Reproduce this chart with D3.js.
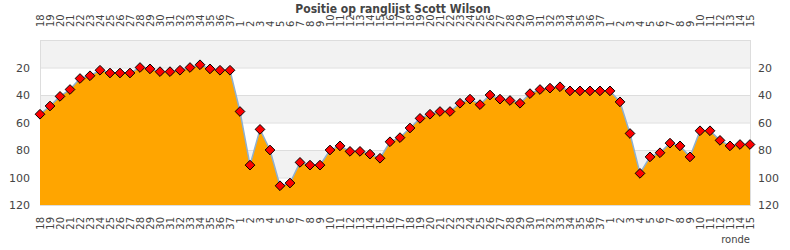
<!DOCTYPE html>
<html>
<head>
<meta charset="utf-8">
<script src="https://cdn.jsdelivr.net/npm/d3@7"></script>
<style>
  body { margin: 0; background: #fff; }
  svg { display: block; }
</style>
</head>
<body>
<div id="chart"></div>
<script>
const rounds = [
  "18","19","20","21","22","23","24","25","26","27","28","29","30","31","32","33","34","35","36","37",
  "1","2","3","4","5","6","7","8","9","10","11","12","13","14","15","16","17","18","19","20",
  "21","22","23","24","25","26","27","28","29","30","31","32","33","34","35","36","37",
  "1","2","3","4","5","6","7","8","9","10","11","12","13","14","15"
];
const positions = [
  54,48,41,36,28,26,22,24,24,24,20,21,23,23,22,20,18,21,22,22,
  52,91,65,80,106,104,89,91,91,80,77,81,81,83,86,74,71,64,57,54,
  52,52,46,43,47,40,43,44,46,39,36,35,34,37,37,37,37,
  37,45,68,97,85,82,75,77,85,66,66,73,77,76,76
];
const yTicks = [20, 40, 60, 80, 100, 120];
const bands = [0, 40, 80];

const width = 790, height = 250;
const margin = { top: 40, right: 40, bottom: 45, left: 40 };

const svg = d3.select("#chart").append("svg")
  .attr("width", width)
  .attr("height", height)
  .style("font-family", "'DejaVu Sans', sans-serif");

const idx = rounds.map((d, i) => i);
const x = d3.scalePoint()
  .domain(idx)
  .range([margin.left, width - margin.right]);

const y = d3.scaleLinear()
  .domain([0, 120])
  .range([margin.top, height - margin.bottom]);

// alternating bands
svg.selectAll(".band")
  .data(bands)
  .enter()
  .append("rect")
  .attr("x", margin.left)
  .attr("y", d => y(d))
  .attr("width", width - margin.left - margin.right)
  .attr("height", d => y(d + 20) - y(d))
  .attr("fill", "#f2f2f2");

// grid lines
svg.selectAll(".grid")
  .data(yTicks.slice(0, -1))
  .enter()
  .append("line")
  .attr("x1", margin.left)
  .attr("x2", width - margin.right)
  .attr("y1", d => y(d) + 0.5)
  .attr("y2", d => y(d) + 0.5)
  .attr("stroke", "#dddddd");

// plot border
svg.append("rect")
  .attr("x", margin.left + 0.5)
  .attr("y", margin.top + 0.5)
  .attr("width", width - margin.left - margin.right)
  .attr("height", height - margin.top - margin.bottom)
  .attr("fill", "none")
  .attr("stroke", "#dddddd");

const area = d3.area()
  .x((d, i) => x(i))
  .y0(y(120))
  .y1(d => y(d));

svg.append("path")
  .datum(positions)
  .attr("d", area)
  .attr("fill", "#ffa500");

const line = d3.line()
  .x((d, i) => x(i))
  .y(d => y(d));

svg.append("path")
  .datum(positions)
  .attr("d", line)
  .attr("fill", "none")
  .attr("stroke", "#8eb0d0")
  .attr("stroke-width", 1.5);

svg.selectAll(".pt")
  .data(positions)
  .enter()
  .append("path")
  .attr("d", d3.symbol().type(d3.symbolDiamond2).size(60))
  .attr("transform", (d, i) => `translate(${x(i)},${y(d)})`)
  .attr("fill", "#ff0000")
  .attr("stroke", "#000")
  .attr("stroke-width", 1);

// y axes (left and right)
const yAxisL = svg.append("g")
  .attr("transform", `translate(${margin.left},0)`)
  .call(d3.axisLeft(y).tickValues(yTicks).tickSize(0).tickPadding(10));
const yAxisR = svg.append("g")
  .attr("transform", `translate(${width - margin.right},0)`)
  .call(d3.axisRight(y).tickValues(yTicks).tickSize(0).tickPadding(8));
[yAxisL, yAxisR].forEach(g => {
  g.select(".domain").remove();
  g.selectAll("text")
    .style("font-size", "11px")
    .style("font-family", "'DejaVu Sans', sans-serif")
    .attr("fill", "#444");
});

// x axes top and bottom, rotated labels
const xAxisT = svg.append("g")
  .attr("transform", `translate(0,${margin.top})`)
  .call(d3.axisTop(x).tickFormat(i => rounds[i]).tickSize(0));
xAxisT.select(".domain").remove();
xAxisT.selectAll("text")
  .attr("transform", "rotate(-90)")
  .attr("text-anchor", "start")
  .attr("x", 13)
  .attr("y", 0)
  .attr("dy", "0.35em")
  .style("font-size", "10px")
  .style("font-family", "'DejaVu Sans', sans-serif")
  .attr("fill", "#444");

const xAxisB = svg.append("g")
  .attr("transform", `translate(0,${height - margin.bottom})`)
  .call(d3.axisBottom(x).tickFormat(i => rounds[i]).tickSize(0));
xAxisB.select(".domain").remove();
xAxisB.selectAll("text")
  .attr("transform", "rotate(-90)")
  .attr("text-anchor", "end")
  .attr("x", -12)
  .attr("y", 0)
  .attr("dy", "0.35em")
  .style("font-size", "10px")
  .style("font-family", "'DejaVu Sans', sans-serif")
  .attr("fill", "#444");

svg.append("text")
  .attr("x", 750)
  .attr("y", 243)
  .attr("text-anchor", "end")
  .style("font-size", "10px")
  .attr("fill", "#444")
  .text("ronde");

svg.append("text")
  .attr("x", 393)
  .attr("y", 13)
  .attr("text-anchor", "middle")
  .style("font-family", "'DejaVu Sans Condensed', 'DejaVu Sans', sans-serif")
  .style("font-size", "12px")
  .style("font-weight", "bold")
  .attr("fill", "#444")
  .text("Positie op ranglijst Scott Wilson");
</script>
</body>
</html>
